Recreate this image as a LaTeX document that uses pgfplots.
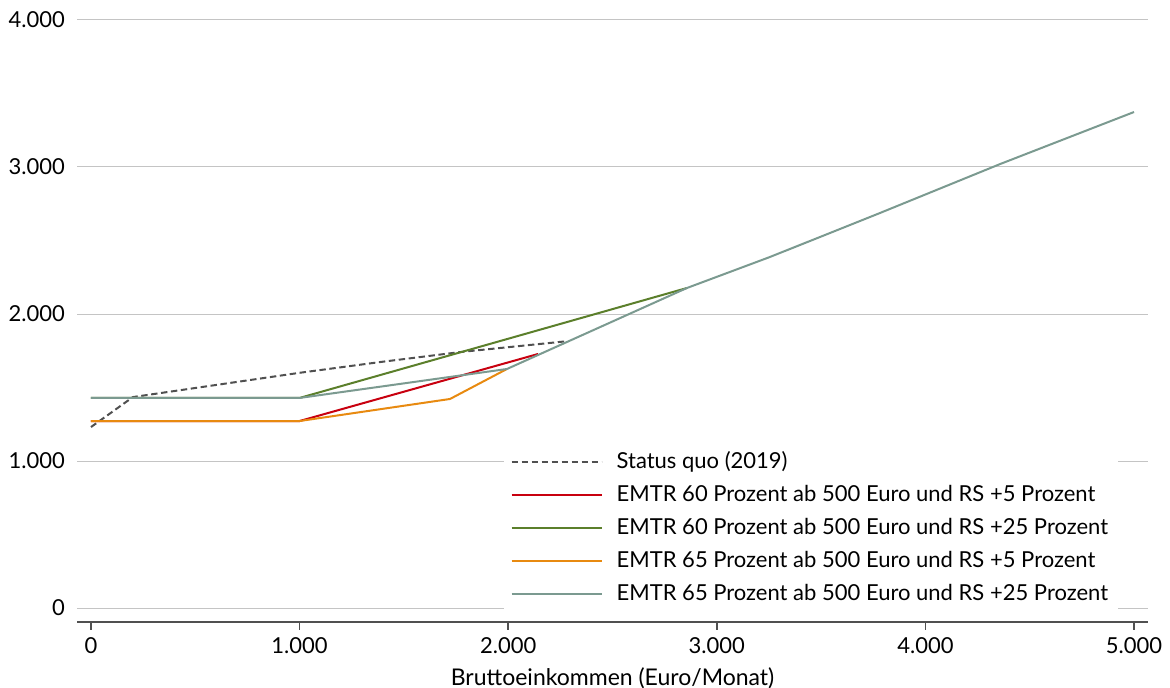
\documentclass[border=0pt]{standalone}
\usepackage{fontspec}
\setmainfont{Lato}
\usepackage{pgfplots}
\pgfplotsset{compat=1.18}
\definecolor{sqgray}{HTML}{505050}
\definecolor{emred}{HTML}{C8000F}
\definecolor{emgreen}{HTML}{5B7F2B}
\definecolor{emorange}{HTML}{E88A10}
\definecolor{emgray}{HTML}{7B9A90}
\definecolor{gridc}{HTML}{C4C4C4}
\definecolor{axc}{HTML}{505050}
\newcommand{\lblfont}{\fontsize{11}{13}\selectfont}
\begin{document}
\begin{tikzpicture}
\path[use as bounding box] (-38.5pt,-33pt) rectangle (546.5pt,311pt);
\begin{axis}[
  at={(0,0)}, anchor=south west,
  scale only axis, width=535.5pt, height=301pt,
  xmin=-67, xmax=5067, ymin=-95, ymax=4000,
  axis lines*=left,
  x axis line style={draw=axc, line width=0.9pt},
  y axis line style={draw=none},
  xtick={0,1000,2000,3000,4000,5000},
  ytick={0,1000,2000,3000,4000},
  tick align=outside,
  xtick style={draw=axc, line width=0.9pt},
  major tick length=4pt,
  ytick style={draw=none},
  ymajorgrids, grid style={gridc, line width=0.5pt},
  /pgf/number format/.cd, 1000 sep={.}, assume math mode=true, /pgfplots/.cd,
  tick label style={font=\lblfont},
  yticklabel style={xshift=1.5pt},
  xlabel={Bruttoeinkommen (Euro/Monat)},
  xlabel style={font=\fontsize{11.5}{13}\selectfont, yshift=-0.5pt},
  legend style={at={(0.398,0.301)}, anchor=north west, draw=none, fill=white,
    font=\lblfont, inner xsep=1pt, inner ysep=2pt, column sep=0pt,
    nodes={inner xsep=4pt, inner ysep=3pt, text height=8.5pt, text depth=2pt}},
  legend cell align=left,
  legend image code/.code={\draw[#1] (3pt,0pt) -- (48pt,0pt);
    \path[draw=none, fill=none] (0pt,0pt) -- (51.5pt,0pt);},
  every axis plot/.append style={line width=1pt},
]
\addplot[sqgray, dash pattern=on 3.2pt off 1.8pt] coordinates {
  (0,1231) (201,1435) (1000,1600) (1385,1673) (1769,1741) (2282,1815)};
\addlegendentry{Status quo (2019)}
\addplot[emred] coordinates {
  (0,1272) (1000,1272) (2143,1728)};
\addlegendentry{EMTR 60 Prozent ab 500 Euro und RS +5 Prozent}
\addplot[emgreen] coordinates {
  (0,1429) (1000,1429) (2857,2177)};
\addlegendentry{EMTR 60 Prozent ab 500 Euro und RS +25 Prozent}
\addplot[emorange] coordinates {
  (0,1272) (1000,1272) (1721,1422) (1994,1626)};
\addlegendentry{EMTR 65 Prozent ab 500 Euro und RS +5 Prozent}
\addplot[emgray] coordinates {
  (0,1429) (1000,1429) (1994,1626) (2857,2177) (3255,2388) (3782,2687) (4358,3020) (5000,3374)};
\addlegendentry{EMTR 65 Prozent ab 500 Euro und RS +25 Prozent}
\end{axis}
\end{tikzpicture}
\end{document}
